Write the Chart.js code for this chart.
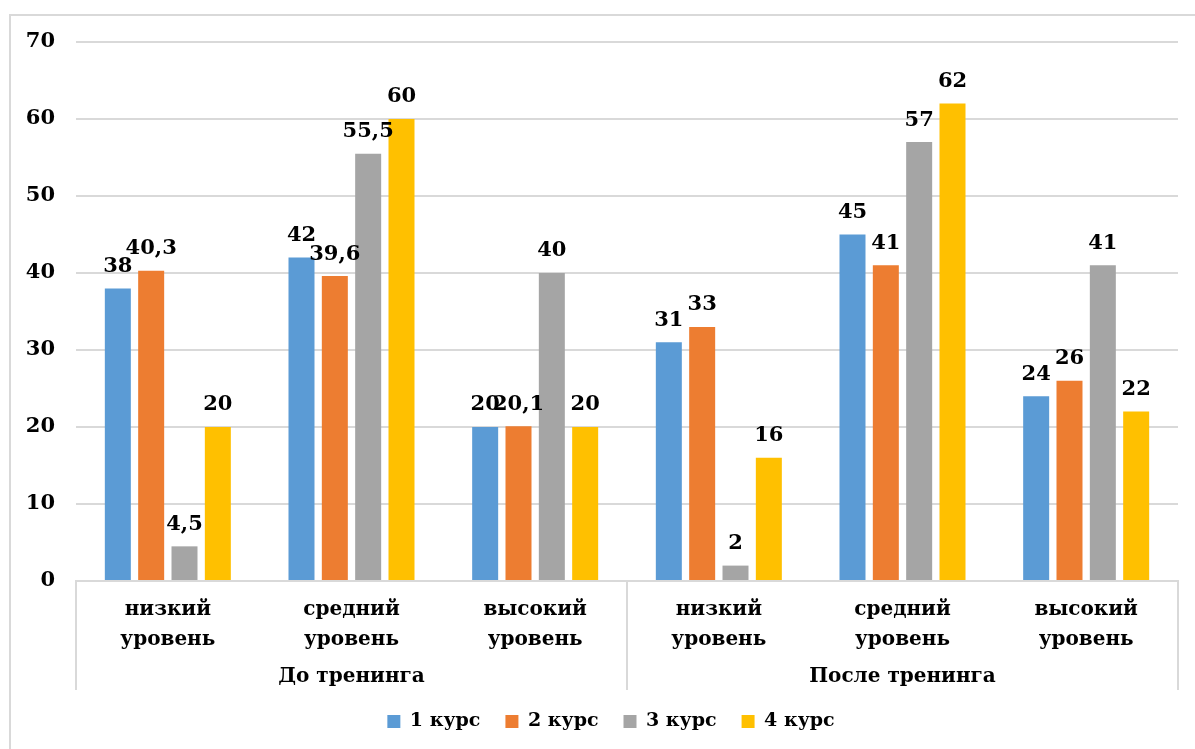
<!DOCTYPE html>
<html>
<head>
<meta charset="utf-8">
<script src="https://cdn.jsdelivr.net/npm/chart.js@4/dist/chart.umd.min.js"></script>
<style>
  html, body { margin: 0; padding: 0; background: #fff; }
  #wrap { width: 1195px; height: 749px; position: relative; }
</style>
</head>
<body>
<div id="wrap"><canvas id="c"></canvas></div>
<script>
// Levels (two-line labels) and the two stages they are grouped under
const levels = [
  ['низкий', 'уровень'], ['средний', 'уровень'], ['высокий', 'уровень'],
  ['низкий', 'уровень'], ['средний', 'уровень'], ['высокий', 'уровень']
];
const stages = ['До тренинга', 'После тренинга'];
const seriesNames = ['1 курс', '2 курс', '3 курс', '4 курс'];

// Values per course, in level order
const course1 = [38, 42, 20, 31, 45, 24];
const course2 = [40.3, 39.6, 20.1, 33, 41, 26];
const course3 = [4.5, 55.5, 40, 2, 57, 41];
const course4 = [20, 60, 20, 16, 62, 22];

const yMin = 0, yMax = 70, yStep = 10;

const colors = ['#5B9BD5', '#ED7D31', '#A5A5A5', '#FFC000'];
const FONT = 'DejaVu Serif';
const LINE = '#D9D9D9';

const fmt = v => String(v).replace('.', ',');

// White background and outer frame
const framePlugin = {
  id: 'frame',
  beforeDraw(chart) {
    const ctx = chart.ctx;
    ctx.save();
    ctx.fillStyle = '#fff';
    ctx.fillRect(0, 0, chart.width, chart.height);
    ctx.strokeStyle = LINE;
    ctx.lineWidth = 2;
    ctx.strokeRect(10, 15, chart.width + 20, chart.height + 20);
    ctx.restore();
  }
};

// Centre the legend under the plot rather than the whole canvas
const legendShift = {
  id: 'legendShift',
  afterLayout(chart) {
    if (chart.legend) chart.legend.left += 44;
  }
};

// Stage labels beneath the level labels, with separators
const stagePlugin = {
  id: 'stages',
  afterDraw(chart) {
    const ctx = chart.ctx;
    const xs = chart.scales.x;
    const area = chart.chartArea;
    const mid = (xs.getPixelForValue(2) + xs.getPixelForValue(3)) / 2;
    const bounds = [area.left, mid, area.right];
    const bottom = area.bottom + 109;
    ctx.save();
    ctx.strokeStyle = LINE;
    ctx.lineWidth = 2;
    bounds.forEach(x => {
      ctx.beginPath();
      ctx.moveTo(x, area.bottom);
      ctx.lineTo(x, bottom);
      ctx.stroke();
    });
    ctx.fillStyle = '#000';
    ctx.font = 'bold 20px "' + FONT + '"';
    ctx.textAlign = 'center';
    ctx.textBaseline = 'middle';
    ctx.fillText(stages[0], (bounds[0] + bounds[1]) / 2, area.bottom + 96);
    ctx.fillText(stages[1], (bounds[1] + bounds[2]) / 2, area.bottom + 96);
    ctx.restore();
  }
};

// Value labels above each bar
const valuePlugin = {
  id: 'values',
  afterDatasetsDraw(chart) {
    const ctx = chart.ctx;
    ctx.save();
    ctx.fillStyle = '#000';
    ctx.font = 'bold 21px "' + FONT + '"';
    ctx.textAlign = 'center';
    ctx.textBaseline = 'middle';
    chart.data.datasets.forEach((ds, di) => {
      const meta = chart.getDatasetMeta(di);
      meta.data.forEach((bar, i) => {
        ctx.fillText(fmt(ds.data[i]), bar.x, bar.y - 22);
      });
    });
    ctx.restore();
  }
};

const seriesValues = [course1, course2, course3, course4];

new Chart(document.getElementById('c'), {
  type: 'bar',
  data: {
    labels: levels,
    datasets: seriesNames.map((name, i) => ({
      label: name,
      data: seriesValues[i],
      backgroundColor: colors[i],
      borderWidth: 0,
      categoryPercentage: 0.726,
      barPercentage: 0.78
    }))
  },
  options: {
    responsive: true,
    maintainAspectRatio: false,
    animation: false,
    layout: { padding: { top: 42, right: 17, bottom: 8, left: 0 } },
    plugins: {
      legend: {
        position: 'bottom',
        labels: {
          boxWidth: 13,
          boxHeight: 13,
          padding: 25,
          color: '#000',
          font: { family: FONT, size: 19, weight: 'bold' }
        }
      },
      tooltip: { enabled: false }
    },
    scales: {
      x: {
        grid: { display: false },
        border: { display: true, color: LINE, width: 2 },
        ticks: {
          color: '#000',
          padding: 6,
          maxRotation: 0,
          autoSkip: false,
          font: { family: FONT, size: 20, weight: 'bold', lineHeight: 1.5 }
        },
        afterFit(scale) { scale.height = 106; }
      },
      y: {
        min: yMin,
        max: yMax,
        ticks: {
          stepSize: yStep,
          color: '#000',
          padding: 21,
          font: { family: FONT, size: 21, weight: 'bold' }
        },
        grid: { color: LINE, lineWidth: 2, drawTicks: false },
        border: { display: false },
        afterFit(scale) { scale.width = 76; }
      }
    }
  },
  plugins: [framePlugin, legendShift, stagePlugin, valuePlugin]
});
</script>
</body>
</html>
